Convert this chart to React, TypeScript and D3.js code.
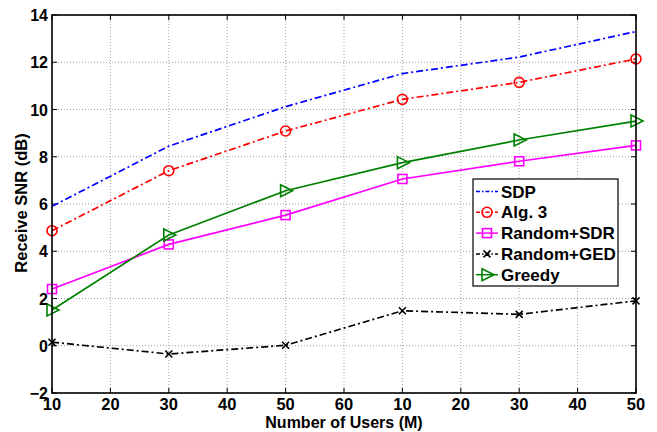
import React from "react";
import * as d3 from "d3";

const xTickLabels = ["10", "20", "30", "40", "50", "60", "10", "20", "30", "40", "50"];
const pointIdx = [0, 2, 4, 6, 8, 10];
const yTicks = [-2, 0, 2, 4, 6, 8, 10, 12, 14];

const sdp = [5.9, 8.45, 10.12, 11.52, 12.22, 13.3];
const alg3 = [4.87, 7.41, 9.09, 10.43, 11.15, 12.14];
const randSDR = [2.4, 4.29, 5.53, 7.06, 7.81, 8.48];
const randGED = [0.15, -0.35, 0.02, 1.48, 1.33, 1.9];
const greedy = [1.51, 4.69, 6.56, 7.75, 8.71, 9.51];

type Marker = "none" | "circle" | "square" | "x" | "tri";
const series: { name: string; values: number[]; color: string; dash: string | null; marker: Marker }[] = [
  { name: "SDP", values: sdp, color: "#0000ff", dash: "7,3,2,3", marker: "none" },
  { name: "Alg. 3", values: alg3, color: "#ff0000", dash: "7,3,2,3", marker: "circle" },
  { name: "Random+SDR", values: randSDR, color: "#ff00ff", dash: null, marker: "square" },
  { name: "Random+GED", values: randGED, color: "#000000", dash: "7,3,2,3", marker: "x" },
  { name: "Greedy", values: greedy, color: "#008000", dash: null, marker: "tri" },
];

const W = 657, H = 432;
const L = 52, R = 636, T = 15, B = 393;
const FONT = "'Liberation Sans', Arial, Helvetica, sans-serif";

function MarkerShape({ m, x, y, color }: { m: Marker; x: number; y: number; color: string }) {
  const sw = 1.6;
  if (m === "circle") return <circle cx={x} cy={y} r={5} fill="none" stroke={color} strokeWidth={sw} />;
  if (m === "square") return <rect x={x - 4.5} y={y - 4.5} width={9} height={9} fill="none" stroke={color} strokeWidth={sw} />;
  if (m === "x") return <path d={`M${x - 3.5},${y - 3.5}L${x + 3.5},${y + 3.5}M${x - 3.5},${y + 3.5}L${x + 3.5},${y - 3.5}`} stroke={color} strokeWidth={sw} />;
  if (m === "tri") return <path d={`M${x - 5},${y - 6}L${x + 7},${y}L${x - 5},${y + 6}Z`} fill="none" stroke={color} strokeWidth={sw} />;
  return null;
}

export default function App() {
  const x = d3.scaleLinear().domain([0, 10]).range([L, R]);
  const y = d3.scaleLinear().domain([-2, 14]).range([B, T]);
  const line = d3.line<[number, number]>().x((d) => x(d[0])).y((d) => y(d[1]));

  const legX = 473, legY = 179, legW = 145, legH = 107;
  const rowH = 20.8;

  return (
    <svg width={W} height={H} style={{ position: "absolute", left: 0, top: 0, background: "#fff" }}>
      <rect x={0} y={0} width={W} height={H} fill="#fff" />
      {/* grid */}
      {xTickLabels.map((_, i) => (
        <line key={"gx" + i} x1={x(i)} x2={x(i)} y1={T} y2={B} stroke="#a0a0a0" strokeWidth={1} strokeDasharray="1,2" />
      ))}
      {yTicks.map((v) => (
        <line key={"gy" + v} x1={L} x2={R} y1={y(v)} y2={y(v)} stroke="#a0a0a0" strokeWidth={1} strokeDasharray="1,2" />
      ))}
      {/* ticks */}
      {xTickLabels.map((_, i) => (
        <g key={"tx" + i}>
          <line x1={x(i)} x2={x(i)} y1={B} y2={B - 5} stroke="#000" />
          <line x1={x(i)} x2={x(i)} y1={T} y2={T + 5} stroke="#000" />
        </g>
      ))}
      {yTicks.map((v) => (
        <g key={"ty" + v}>
          <line x1={L} x2={L + 5} y1={y(v)} y2={y(v)} stroke="#000" />
          <line x1={R} x2={R - 5} y1={y(v)} y2={y(v)} stroke="#000" />
        </g>
      ))}
      {/* series */}
      {series.map((s) => {
        const pts: [number, number][] = s.values.map((v, k) => [pointIdx[k], v]);
        return (
          <g key={s.name}>
            <path d={line(pts) || ""} fill="none" stroke={s.color} strokeWidth={1.7} strokeDasharray={s.dash || undefined} />
            {pts.map((p, k) => (
              <MarkerShape key={k} m={s.marker} x={x(p[0])} y={y(p[1])} color={s.color} />
            ))}
          </g>
        );
      })}
      {/* axes box */}
      <rect x={L} y={T} width={R - L} height={B - T} fill="none" stroke="#000" strokeWidth={1.6} />
      {/* tick labels */}
      {xTickLabels.map((t, i) => (
        <text key={"lx" + i} x={x(i)} y={410} textAnchor="middle" fontFamily={FONT} fontWeight="bold" fontSize={16.5}>
          {t}
        </text>
      ))}
      {yTicks.map((v) => (
        <text key={"ly" + v} x={48} y={y(v) + 6} textAnchor="end" fontFamily={FONT} fontWeight="bold" fontSize={16}>
          {v < 0 ? "\u2212" + Math.abs(v) : String(v)}
        </text>
      ))}
      {/* axis labels */}
      <text x={(L + R) / 2} y={428.3} textAnchor="middle" fontFamily={FONT} fontWeight="bold" fontSize={16}>
        Number of Users (M)
      </text>
      <text transform={`translate(27,203) rotate(-90)`} textAnchor="middle" fontFamily={FONT} fontWeight="bold" fontSize={16.5}>
        Receive SNR (dB)
      </text>
      {/* legend */}
      <rect x={legX} y={legY} width={legW} height={legH} fill="#fff" stroke="#000" strokeWidth={1.2} />
      {series.map((s, k) => {
        const cy = legY + 12.5 + k * rowH;
        return (
          <g key={"leg" + s.name}>
            <line x1={476} x2={498} y1={cy} y2={cy} stroke={s.color} strokeWidth={1.5} strokeDasharray={s.dash ? "4,2,1.5,2" : undefined} />
            <MarkerShape m={s.marker} x={487} y={cy} color={s.color} />
            <text x={501} y={cy + 6} fontFamily={FONT} fontWeight="bold" fontSize={17}>
              {s.name}
            </text>
          </g>
        );
      })}
    </svg>
  );
}
